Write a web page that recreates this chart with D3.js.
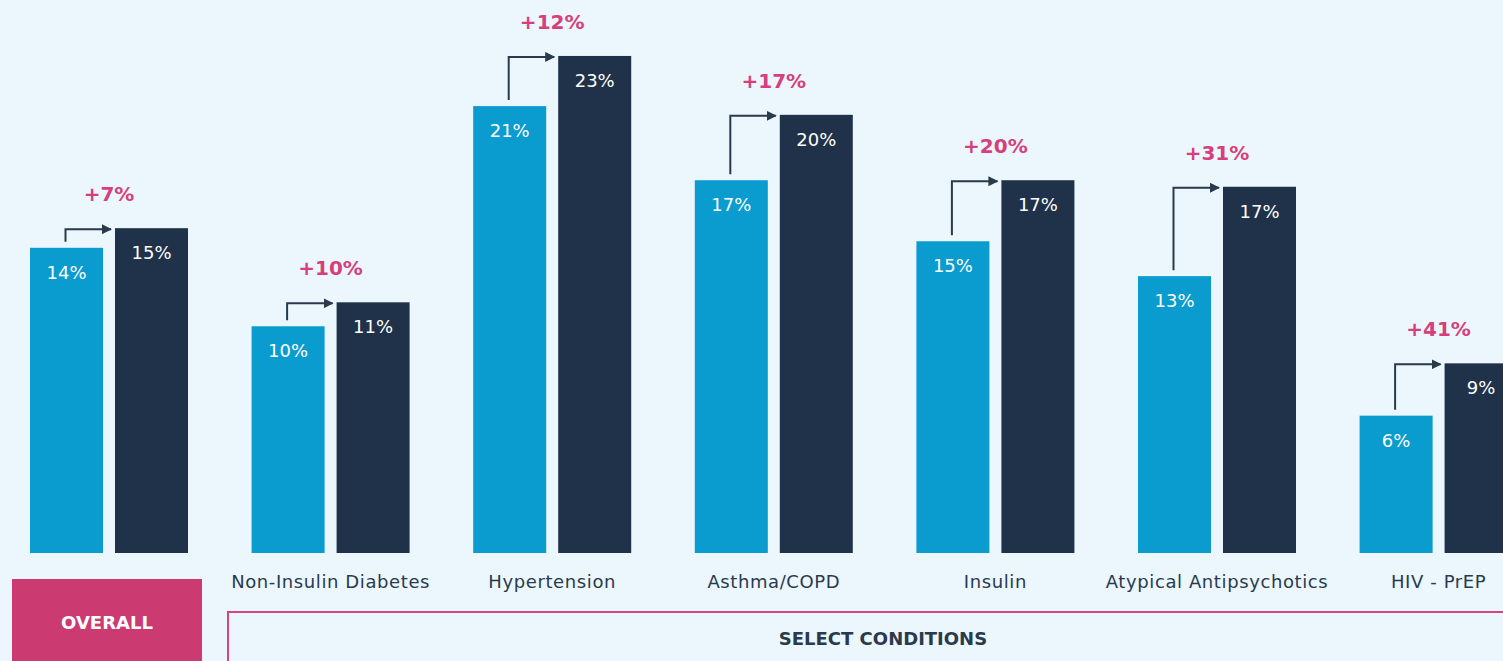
<!DOCTYPE html>
<html>
<head>
<meta charset="utf-8">
<script src="https://cdn.jsdelivr.net/npm/d3@7"></script>
<style>
  html, body { margin: 0; padding: 0; background: #ebf7fd; }
  svg { display: block; font-family: "DejaVu Sans", sans-serif; }
</style>
</head>
<body>
<div id="plotdiv"></div>
<script>
// data
const categories = ["Overall", "Non-Insulin Diabetes", "Hypertension", "Asthma/COPD", "Insulin", "Atypical Antipsychotics", "HIV - PrEP"];
const series = ["before", "after"];
const beforeValues = [14.0, 10.4, 20.5, 17.1, 14.3, 12.7, 6.3];
const afterValues = [14.9, 11.5, 22.8, 20.1, 17.1, 16.8, 8.7];
const beforeLabels = ["14%", "10%", "21%", "17%", "15%", "13%", "6%"];
const afterLabels = ["15%", "11%", "23%", "20%", "17%", "17%", "9%"];
const changeLabels = ["+7%", "+10%", "+12%", "+17%", "+20%", "+31%", "+41%"];

const W = 1503, H = 661;
const baseY = 553;

const svg = d3.select("#plotdiv")
  .append("svg")
  .attr("width", W)
  .attr("height", H);

svg.append("rect").attr("width", W).attr("height", H).attr("fill", "#ebf7fd");

// scales
const x0 = d3.scaleBand()
  .domain(categories)
  .range([30, 30 + 221.6 * categories.length])
  .paddingInner(0);

const x1 = d3.scaleBand()
  .domain(series)
  .range([0, 158])
  .paddingInner(0.141)
  .paddingOuter(0);

const y = d3.scaleLinear()
  .domain([0, 25])
  .range([baseY, baseY - 25 * 21.8]);

const colors = { before: "#0a9bcf", after: "#1f3249" };

svg.append("defs").append("marker")
  .attr("id", "arrowhead")
  .attr("viewBox", "0 0 10 10")
  .attr("refX", 9).attr("refY", 5)
  .attr("markerWidth", 5).attr("markerHeight", 5)
  .attr("markerUnits", "strokeWidth")
  .attr("orient", "auto")
  .append("path")
  .attr("d", "M0,0 L10,5 L0,10 Z")
  .attr("fill", "#2a3a4c");

const rows = categories.map((c, i) => ({
  cat: c, i: i,
  before: beforeValues[i], after: afterValues[i],
  bl: beforeLabels[i], al: afterLabels[i], cl: changeLabels[i]
}));

const groups = svg.selectAll("g.grp")
  .data(rows)
  .enter()
  .append("g")
  .attr("class", "grp")
  .attr("transform", d => "translate(" + x0(d.cat) + ",0)");

const barData = d => series.map(s => ({ s: s, v: d[s], lab: s == "before" ? d.bl : d.al }));

// bars
groups.selectAll("rect")
  .data(barData)
  .enter()
  .append("rect")
  .attr("x", d => x1(d.s))
  .attr("y", d => y(d.v))
  .attr("width", x1.bandwidth())
  .attr("height", d => y(0) - y(d.v))
  .attr("fill", d => colors[d.s]);

// value labels
groups.selectAll("text.val")
  .data(barData)
  .enter()
  .append("text")
  .attr("class", "val")
  .attr("x", d => x1(d.s) + x1.bandwidth() / 2)
  .attr("y", d => y(d.v) + 31)
  .attr("text-anchor", "middle")
  .attr("fill", "#ffffff")
  .attr("font-size", 18)
  .text(d => d.lab);

// arrows
groups.append("path")
  .attr("d", d => {
    const xv = x1("before") + x1.bandwidth() / 2 - 1;
    const yb = y(d.before) - 6;
    const yt = y(d.after) + 1;
    const xe = x1("after") - 4;
    return "M" + xv + "," + yb + " L" + xv + "," + yt + " L" + xe + "," + yt;
  })
  .attr("fill", "none")
  .attr("stroke", "#2a3a4c")
  .attr("stroke-width", 2)
  .attr("marker-end", "url(#arrowhead)");

// change labels
groups.append("text")
  .attr("x", (x1("before") + x1.bandwidth() + x1("after")) / 2)
  .attr("y", d => y(d.after) - 27)
  .attr("text-anchor", "middle")
  .attr("fill", "#d63f7c")
  .attr("font-size", 20)
  .attr("font-weight", 700)
  .text(d => d.cl);

// category labels
groups.filter(d => d.i > 0)
  .append("text")
  .attr("x", 79)
  .attr("y", 588)
  .attr("text-anchor", "middle")
  .attr("fill", "#2a3a4c")
  .attr("font-size", 18)
  .attr("letter-spacing", 0.6)
  .text(d => d.cat);

// bottom boxes
svg.append("rect")
  .attr("x", 12).attr("y", 579)
  .attr("width", 190).attr("height", 90)
  .attr("fill", "#cc3a72");

svg.append("text")
  .attr("x", 107).attr("y", 629)
  .attr("text-anchor", "middle")
  .attr("fill", "#ffffff")
  .attr("font-size", 18)
  .attr("font-weight", 700)
  .text("OVERALL");

svg.append("rect")
  .attr("x", 228).attr("y", 612)
  .attr("width", 1300).attr("height", 80)
  .attr("fill", "none")
  .attr("stroke", "#d9437e")
  .attr("stroke-width", 2);

svg.append("text")
  .attr("x", 883).attr("y", 645)
  .attr("text-anchor", "middle")
  .attr("fill", "#2a3a4c")
  .attr("font-size", 18)
  .attr("font-weight", 700)
  .text("SELECT CONDITIONS");
</script>
</body>
</html>
